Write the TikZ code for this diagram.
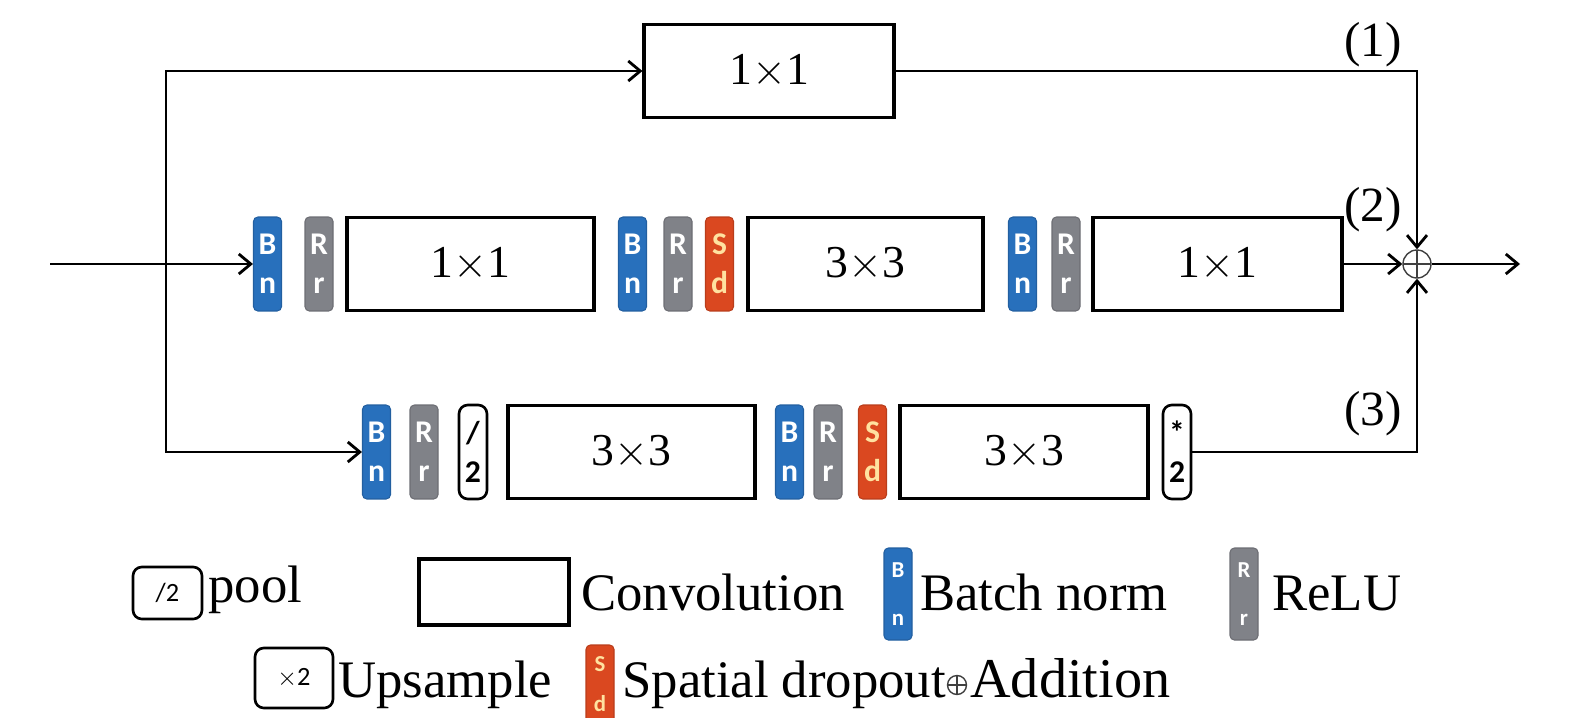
\documentclass[tikz,border=0pt]{standalone}
\usepackage{fontspec}
\setmainfont{Liberation Serif}
\newfontfamily\blkfont{Carlito}
\usetikzlibrary{positioning,arrows.meta}
\definecolor{bnblue}{RGB}{40,112,188}
\definecolor{rgray}{RGB}{128,130,136}
\definecolor{sdred}{RGB}{218,72,32}
\definecolor{sdtext}{RGB}{255,226,160}

\begin{document}
\begin{tikzpicture}[
  x=0.02cm, y=-0.02cm,
  >={Straight Barb[length=2.4mm,width=4mm]},
  conv/.style={
    draw, line width=1.8pt, inner sep=0,
    minimum height=1.86cm,
    font=\fontsize{26}{30}\selectfont,
  },
  blk/.style={
    rounded corners=2.5pt, line width=0.6pt, inner sep=0,
    minimum width=0.56cm, minimum height=1.88cm,
    align=center, text=white,
    font=\blkfont\bfseries\fontsize{18}{22}\selectfont,
  },
  bn/.style={blk, fill=bnblue, draw=bnblue!85!black},
  re/.style={blk, fill=rgray, draw=rgray!85!black},
  sd/.style={blk, fill=sdred, draw=sdred!85!black, text=sdtext},
  op/.style={blk, fill=white, draw=black, line width=1.5pt, rounded corners=5pt, text=black},
  legblk/.style={font=\blkfont\bfseries\fontsize{13}{27}\selectfont, minimum height=1.84cm},
  legop/.style={
    draw, line width=1.5pt, rounded corners=5pt, inner sep=0,
    font=\blkfont\fontsize{15}{17}\selectfont,
  },
  conn/.style={line width=1.6pt},
  lab/.style={font=\fontsize{28}{32}\selectfont, inner sep=0},
  leg/.style={font=\fontsize{30}{35}\selectfont, inner sep=0, anchor=base west},
  plus/.style={
    circle, draw=black!75, line width=0.8pt, inner sep=0,
    path picture={
      \draw[line width=1.3pt] (path picture bounding box.north) -- (path picture bounding box.south);
      \draw[line width=1.3pt] (path picture bounding box.west) -- (path picture bounding box.east);
    },
  },
]
\useasboundingbox (0,0) rectangle (1575,717);

% top branch
\node[conv, minimum width=5cm] (top) at (769,71) {1$\times$1};

% middle branch
\node[bn] (bn1) at (267.5,264) {B\\n};
\node[re] (rr1) at (319,264) {R\\r};
\node[conv, minimum width=4.94cm] (c1) at (470.5,264) {1$\times$1};
\node[bn] (bn2) at (632.5,264) {B\\n};
\node[re] (rr2) at (678,264) {R\\r};
\node[sd] (sd1) at (719.5,264) {S\\d};
\node[conv, minimum width=4.7cm] (c2) at (865.5,264) {3$\times$3};
\node[bn] (bn3) at (1022.5,264) {B\\n};
\node[re] (rr3) at (1066,264) {R\\r};
\node[conv, minimum width=4.98cm] (c3) at (1217.5,264) {1$\times$1};

% bottom branch
\node[bn] (bn4) at (376.5,452) {B\\n};
\node[re] (rr4) at (424,452) {R\\r};
\node[op] (pl) at (473,452) {/\\2};
\node[conv, minimum width=4.94cm] (c4) at (631.5,452) {3$\times$3};
\node[bn] (bn5) at (789.5,452) {B\\n};
\node[re] (rr5) at (828,452) {R\\r};
\node[sd] (sd2) at (872.5,452) {S\\d};
\node[conv, minimum width=4.96cm] (c5) at (1024,452) {3$\times$3};
\node[op] (up) at (1177,452) {*\\2};

% addition
\node[plus, minimum size=0.56cm] (add) at (1417,264) {};

\node[lab] (l1) at (1373,45) {(1)};
\node[lab] (l2) at (1373,210) {(2)};
\node[lab] (l3) at (1373,414) {(3)};

% connectors
\coordinate (in) at (50,264);
\coordinate (split) at (166,264);
\coordinate (out) at (1520,264);
\draw[conn,->] (in) -- (bn1.west);
\draw[conn,->] (split) |- (top.west);
\draw[conn,->] (split) |- (bn4.west);
\draw[conn,->] (top.east) -| (add.north);
\draw[conn,->] (c3.east) -- (add.west);
\draw[conn,->] (up.east) -| (add.south);
\draw[conn,->] (add.east) -- (out);

% legend
\node[legop, minimum width=1.38cm, minimum height=1.04cm] (kpool) at (167.5,593) {/2};
\node[leg] (tpool) at (208,602) {pool};
\node[conv, minimum width=3cm, minimum height=1.32cm] (kconv) at (494,592) {};
\node[leg] (tconv) at (581,610) {Convolution};
\node[bn, legblk] (kbn) at (898,594) {B\\n};
\node[leg] (tbn) at (920,610) {Batch norm};
\node[re, legblk] (kre) at (1244,594) {R\\r};
\node[leg] (tre) at (1272,610) {ReLU};
\node[legop, minimum width=1.56cm, minimum height=1.2cm] (kup) at (294,678) {$\times$2};
\node[leg] (tup) at (338,697) {Upsample};
\node[sd, legblk, font=\blkfont\bfseries\fontsize{13}{22.8}\selectfont, text depth=0.28cm] (ksd) at (600,691) {S\\d};
\node[leg] (tsd) at (622,697) {Spatial dropout};
\node[plus, minimum size=0.38cm] (kadd) at (957,685) {};
\node[leg, font=\fontsize{32}{36}\selectfont] (tadd) at (970,697) {Addition};
\end{tikzpicture}
\end{document}
